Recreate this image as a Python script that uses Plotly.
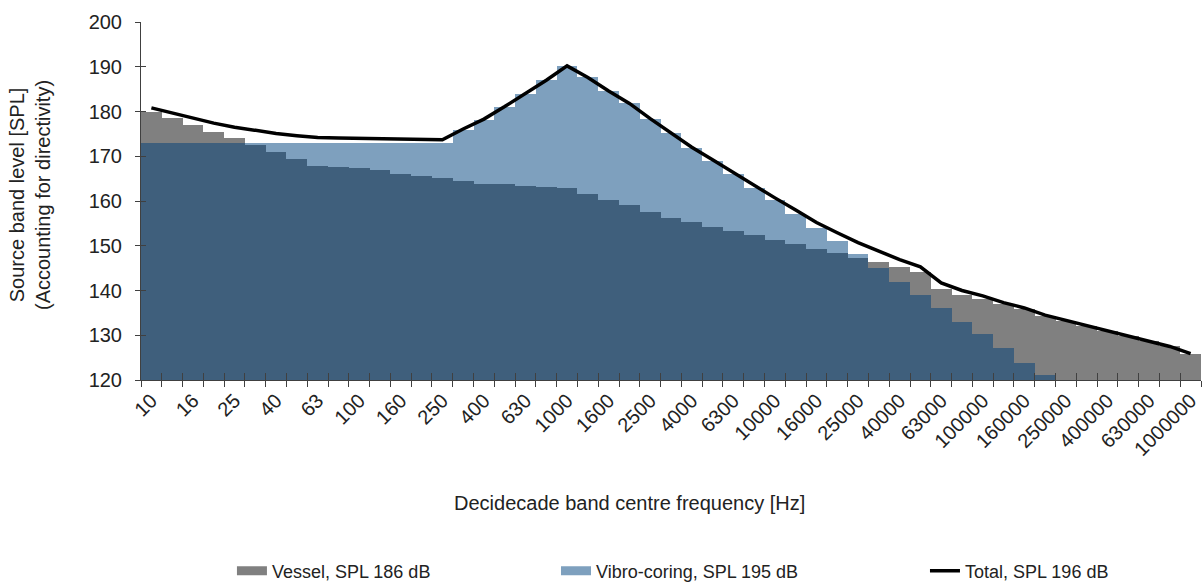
import plotly.graph_objects as go

# Decidecade band centre frequencies [Hz]
bands = ["10", "12.5", "16", "20", "25", "31.5", "40", "50", "63", "80",
         "100", "125", "160", "200", "250", "315", "400", "500", "630", "800",
         "1000", "1250", "1600", "2000", "2500", "3150", "4000", "5000", "6300", "8000",
         "10000", "12500", "16000", "20000", "25000", "31500", "40000", "50000", "63000", "80000",
         "100000", "125000", "160000", "200000", "250000", "315000", "400000", "500000", "630000", "800000",
         "1000000"]

# Source band levels [dB]
vessel = [180.0, 178.5, 177.0, 175.5, 174.0, 172.5, 171.0, 169.4, 167.9, 167.6,
          167.3, 166.9, 166.1, 165.6, 165.2, 164.4, 163.9, 163.7, 163.4, 163.2,
          162.9, 161.6, 160.3, 159.1, 157.6, 156.3, 155.3, 154.3, 153.3, 152.3,
          151.3, 150.3, 149.3, 148.3, 147.3, 146.3, 145.3, 144.2, 140.3, 139.0,
          138.1, 136.9, 135.8, 134.3, 133.2, 132.1, 130.9, 129.8, 128.7, 127.5,
          125.9]

vibro = [173.0, 173.0, 173.0, 173.0, 173.0, 173.0, 173.0, 173.0, 173.0, 173.0,
         173.0, 173.0, 173.0, 173.0, 173.0, 175.8, 178.1, 181.0, 184.0, 187.0,
         190.2, 187.6, 184.6, 181.8, 178.4, 175.2, 171.9, 169.0, 166.1, 163.0,
         160.2, 157.2, 153.9, 151.0, 148.1, 145.1, 141.9, 139.0, 136.0, 133.0,
         130.2, 127.2, 123.9, 121.1, None, None, None, None, None, None,
         None]

total = [180.8, 179.6, 178.5, 177.4, 176.5, 175.8, 175.1, 174.6, 174.2, 174.1,
         174.0, 174.0, 173.8, 173.7, 173.7, 176.1, 178.3, 181.1, 184.0, 187.0,
         190.2, 187.6, 184.6, 181.8, 178.4, 175.3, 172.0, 169.2, 166.3, 163.4,
         160.7, 158.0, 155.2, 152.9, 150.7, 148.8, 146.9, 145.3, 141.7, 140.0,
         138.8, 137.3, 136.1, 134.5, 133.3, 132.1, 130.9, 129.8, 128.7, 127.5,
         125.9]

series_names = ["Vessel, SPL 186 dB", "Vibro-coring, SPL 195 dB", "Total, SPL 196 dB"]
y_ticks = [120, 130, 140, 150, 160, 170, 180, 190, 200]

GREY = "#808080"
LIGHT = "#7EA0BE"
DARK = "#3F5F7C"
AXIS = "#404040"
TEXT = "#222222"
FONT = "Liberation Sans, Arial, sans-serif"

idx = list(range(len(bands)))
# band where both sources overlap is shaded darker
overlap = [min(a, b) if b is not None else None for a, b in zip(vessel, vibro)]
edges = [i - 0.5 for i in range(len(bands) + 1)]
x_range = [-0.5, len(bands) - 0.5]

fig = go.Figure()
fig.add_trace(go.Bar(x=idx, y=vessel, width=1, marker=dict(color=GREY, line=dict(width=0)),
                     showlegend=False, hoverinfo="skip"))
fig.add_trace(go.Bar(x=idx, y=vibro, width=1, marker=dict(color=LIGHT, line=dict(width=0)),
                     showlegend=False, hoverinfo="skip"))
fig.add_trace(go.Bar(x=idx, y=overlap, width=1, marker=dict(color=DARK, line=dict(width=0)),
                     showlegend=False, hoverinfo="skip"))
fig.add_trace(go.Scatter(x=idx, y=total, mode="lines", line=dict(color="black", width=3.5),
                         name=series_names[2], legend="legend3"))

# legend keys for the two bar series
fig.add_trace(go.Scatter(x=[None], y=[None], mode="lines", line=dict(color=GREY, width=9),
                         name=series_names[0], legend="legend"))
fig.add_trace(go.Scatter(x=[None], y=[None], mode="lines", line=dict(color=LIGHT, width=9),
                         name=series_names[1], legend="legend2"))

# axes carrying tick labels and inward tick marks
fig.add_trace(go.Scatter(x=[None], y=[None], xaxis="x2", yaxis="y2", showlegend=False))
fig.add_trace(go.Scatter(x=[None], y=[None], xaxis="x3", yaxis="y", showlegend=False))

legend_common = dict(orientation="h", yanchor="middle", xanchor="left", y=-0.5335,
                     font=dict(family=FONT, size=18, color=TEXT), bgcolor="rgba(0,0,0,0)",
                     itemwidth=30, borderwidth=0)

fig.update_layout(
    width=1203, height=583,
    margin=dict(l=141, r=2, t=22, b=203, autoexpand=False),
    paper_bgcolor="white", plot_bgcolor="white",
    barmode="overlay", bargap=0,
    font=dict(family=FONT, size=20, color=TEXT),
    xaxis=dict(range=x_range, tickmode="array", tickvals=edges, ticktext=[""] * len(edges),
               ticks="outside", ticklen=6, tickwidth=1, tickcolor=AXIS,
               showline=True, linecolor=AXIS, linewidth=1, showgrid=False, zeroline=False),
    xaxis2=dict(overlaying="x", anchor="y", side="bottom", range=x_range, tickmode="array",
                tickvals=idx[::2], ticktext=bands[::2], tickangle=-45, ticks="",
                tickfont=dict(family=FONT, size=20, color=TEXT), ticklabelstandoff=4,
                showline=False, showgrid=False, zeroline=False),
    xaxis3=dict(overlaying="x", anchor="y", side="bottom", range=x_range, tickmode="array",
                tickvals=edges, ticks="inside", ticklen=7, tickwidth=1, tickcolor=AXIS,
                showticklabels=False, showline=False, showgrid=False, zeroline=False),
    yaxis=dict(range=[120, 200], tickmode="array", tickvals=y_ticks,
               ticks="outside", ticklen=5, tickwidth=1, tickcolor=AXIS,
               tickfont=dict(family=FONT, size=20, color=TEXT), ticklabelstandoff=9,
               showline=True, linecolor=AXIS, linewidth=1, showgrid=False, zeroline=False),
    yaxis2=dict(overlaying="y", anchor="x", side="left", range=[120, 200], tickmode="array",
                tickvals=y_ticks, ticks="inside", ticklen=5, tickwidth=1, tickcolor=AXIS,
                showticklabels=False, showline=False, showgrid=False, zeroline=False),
    legend=dict(x=0.0858, **legend_common),
    legend2=dict(x=0.3915, **legend_common),
    legend3=dict(x=0.7396, **legend_common),
    annotations=[
        dict(text="Decidecade band centre frequency [Hz]", xref="paper", yref="paper",
             x=0.4604, y=-0.3436, xanchor="center", yanchor="middle", showarrow=False,
             font=dict(family=FONT, size=20, color=TEXT)),
        dict(text="Source band level [SPL]<br>(Accounting for directivity)", xref="paper",
             yref="paper", x=-0.1047, y=0.5168, xanchor="center", yanchor="middle",
             textangle=-90, showarrow=False, font=dict(family=FONT, size=20, color=TEXT)),
    ],
)

fig.write_html("out.html")
